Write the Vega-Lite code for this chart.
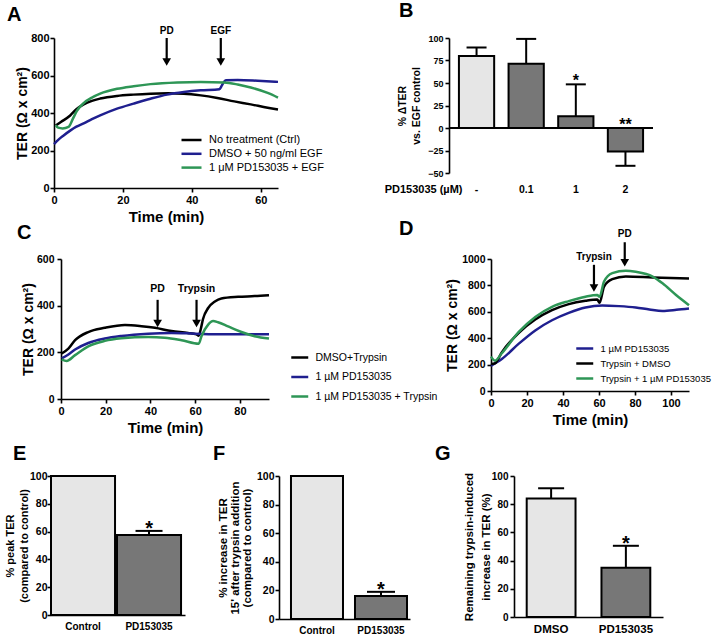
{
  "$schema": "https://vega.github.io/schema/vega-lite/v6.json",
  "padding": {"top": 1, "left": 0, "right": 0, "bottom": 0},
  "spacing": -6,
  "resolve": {"scale": {"color": "independent"}, "legend": {"color": "independent"}},
  "datasets": {
    "lineA": [
      {"t": 0.5, "v": 333, "s": "No treatment (Ctrl)"}, {"t": 2, "v": 352, "s": "No treatment (Ctrl)"}, {"t": 4.7, "v": 387, "s": "No treatment (Ctrl)"}, {"t": 6.5, "v": 420, "s": "No treatment (Ctrl)"}, {"t": 8.6, "v": 446, "s": "No treatment (Ctrl)"}, {"t": 11, "v": 465, "s": "No treatment (Ctrl)"}, {"t": 13.4, "v": 477, "s": "No treatment (Ctrl)"}, {"t": 18.3, "v": 491, "s": "No treatment (Ctrl)"}, {"t": 23, "v": 498, "s": "No treatment (Ctrl)"}, {"t": 28, "v": 503, "s": "No treatment (Ctrl)"}, {"t": 33, "v": 505, "s": "No treatment (Ctrl)"}, {"t": 37.7, "v": 503, "s": "No treatment (Ctrl)"}, {"t": 42.6, "v": 494, "s": "No treatment (Ctrl)"}, {"t": 47.4, "v": 480, "s": "No treatment (Ctrl)"}, {"t": 52.3, "v": 462, "s": "No treatment (Ctrl)"}, {"t": 57.1, "v": 446, "s": "No treatment (Ctrl)"}, {"t": 62, "v": 428, "s": "No treatment (Ctrl)"}, {"t": 65, "v": 419, "s": "No treatment (Ctrl)"},
      {"t": 0, "v": 234, "s": "DMSO + 50 ng/ml EGF"}, {"t": 1.3, "v": 258, "s": "DMSO + 50 ng/ml EGF"}, {"t": 2.7, "v": 279, "s": "DMSO + 50 ng/ml EGF"}, {"t": 4.7, "v": 306, "s": "DMSO + 50 ng/ml EGF"}, {"t": 6.5, "v": 327, "s": "DMSO + 50 ng/ml EGF"}, {"t": 8.6, "v": 345, "s": "DMSO + 50 ng/ml EGF"}, {"t": 11, "v": 367, "s": "DMSO + 50 ng/ml EGF"}, {"t": 13.4, "v": 387, "s": "DMSO + 50 ng/ml EGF"}, {"t": 18.3, "v": 423, "s": "DMSO + 50 ng/ml EGF"}, {"t": 23.1, "v": 450, "s": "DMSO + 50 ng/ml EGF"}, {"t": 28, "v": 476, "s": "DMSO + 50 ng/ml EGF"}, {"t": 32.8, "v": 498, "s": "DMSO + 50 ng/ml EGF"}, {"t": 37.7, "v": 512, "s": "DMSO + 50 ng/ml EGF"}, {"t": 42.6, "v": 521, "s": "DMSO + 50 ng/ml EGF"}, {"t": 48, "v": 527, "s": "DMSO + 50 ng/ml EGF"}, {"t": 48.6, "v": 543, "s": "DMSO + 50 ng/ml EGF"}, {"t": 49.3, "v": 565, "s": "DMSO + 50 ng/ml EGF"}, {"t": 49.9, "v": 575, "s": "DMSO + 50 ng/ml EGF"}, {"t": 53.3, "v": 576, "s": "DMSO + 50 ng/ml EGF"}, {"t": 59.1, "v": 572, "s": "DMSO + 50 ng/ml EGF"}, {"t": 65, "v": 566, "s": "DMSO + 50 ng/ml EGF"},
      {"t": 0.5, "v": 335, "s": "1 μM PD153035 + EGF"}, {"t": 1.2, "v": 322, "s": "1 μM PD153035 + EGF"}, {"t": 2.5, "v": 318, "s": "1 μM PD153035 + EGF"}, {"t": 4.2, "v": 326, "s": "1 μM PD153035 + EGF"}, {"t": 5.5, "v": 370, "s": "1 μM PD153035 + EGF"}, {"t": 6.6, "v": 410, "s": "1 μM PD153035 + EGF"}, {"t": 8.6, "v": 453, "s": "1 μM PD153035 + EGF"}, {"t": 11, "v": 482, "s": "1 μM PD153035 + EGF"}, {"t": 13.4, "v": 503, "s": "1 μM PD153035 + EGF"}, {"t": 18.3, "v": 529, "s": "1 μM PD153035 + EGF"}, {"t": 23.1, "v": 543, "s": "1 μM PD153035 + EGF"}, {"t": 28, "v": 554, "s": "1 μM PD153035 + EGF"}, {"t": 35.8, "v": 563, "s": "1 μM PD153035 + EGF"}, {"t": 42.6, "v": 566, "s": "1 μM PD153035 + EGF"}, {"t": 49.4, "v": 563, "s": "1 μM PD153035 + EGF"}, {"t": 53.3, "v": 552, "s": "1 μM PD153035 + EGF"}, {"t": 57.1, "v": 536, "s": "1 μM PD153035 + EGF"}, {"t": 62, "v": 507, "s": "1 μM PD153035 + EGF"}, {"t": 65, "v": 482, "s": "1 μM PD153035 + EGF"}
    ],
    "arrowA": [
      {"t": 32.7, "top": 800, "head": 672, "label": "PD"},
      {"t": 48.4, "top": 800, "head": 672, "label": "EGF"}
    ],
    "lineC": [
      {"t": 0.3, "v": 195, "s": "DMSO+Trypsin"}, {"t": 3.3, "v": 216, "s": "DMSO+Trypsin"}, {"t": 6.3, "v": 252, "s": "DMSO+Trypsin"}, {"t": 12.2, "v": 287, "s": "DMSO+Trypsin"}, {"t": 19.6, "v": 305, "s": "DMSO+Trypsin"}, {"t": 28.6, "v": 317, "s": "DMSO+Trypsin"}, {"t": 36, "v": 312, "s": "DMSO+Trypsin"}, {"t": 42, "v": 305, "s": "DMSO+Trypsin"}, {"t": 49.4, "v": 291, "s": "DMSO+Trypsin"}, {"t": 56.8, "v": 283, "s": "DMSO+Trypsin"}, {"t": 60.6, "v": 277, "s": "DMSO+Trypsin"}, {"t": 61.6, "v": 271, "s": "DMSO+Trypsin"}, {"t": 62.5, "v": 300, "s": "DMSO+Trypsin"}, {"t": 63.5, "v": 343, "s": "DMSO+Trypsin"}, {"t": 65.8, "v": 390, "s": "DMSO+Trypsin"}, {"t": 68.8, "v": 418, "s": "DMSO+Trypsin"}, {"t": 71.7, "v": 431, "s": "DMSO+Trypsin"}, {"t": 79.2, "v": 438, "s": "DMSO+Trypsin"}, {"t": 86.6, "v": 441, "s": "DMSO+Trypsin"}, {"t": 93, "v": 445, "s": "DMSO+Trypsin"},
      {"t": 0.3, "v": 174, "s": "1 µM PD153035"}, {"t": 3.3, "v": 191, "s": "1 µM PD153035"}, {"t": 6.3, "v": 212, "s": "1 µM PD153035"}, {"t": 12.2, "v": 240, "s": "1 µM PD153035"}, {"t": 19.6, "v": 259, "s": "1 µM PD153035"}, {"t": 27, "v": 270, "s": "1 µM PD153035"}, {"t": 39, "v": 280, "s": "1 µM PD153035"}, {"t": 49.4, "v": 283, "s": "1 µM PD153035"}, {"t": 59.8, "v": 280, "s": "1 µM PD153035"}, {"t": 71.7, "v": 277, "s": "1 µM PD153035"}, {"t": 93, "v": 277, "s": "1 µM PD153035"},
      {"t": 0.3, "v": 170, "s": "1 µM PD153035 + Trypsin"}, {"t": 2.5, "v": 163, "s": "1 µM PD153035 + Trypsin"}, {"t": 6.3, "v": 188, "s": "1 µM PD153035 + Trypsin"}, {"t": 12.2, "v": 226, "s": "1 µM PD153035 + Trypsin"}, {"t": 19.6, "v": 249, "s": "1 µM PD153035 + Trypsin"}, {"t": 27, "v": 260, "s": "1 µM PD153035 + Trypsin"}, {"t": 39, "v": 266, "s": "1 µM PD153035 + Trypsin"}, {"t": 46.4, "v": 263, "s": "1 µM PD153035 + Trypsin"}, {"t": 53.9, "v": 252, "s": "1 µM PD153035 + Trypsin"}, {"t": 61.6, "v": 237, "s": "1 µM PD153035 + Trypsin"}, {"t": 62.8, "v": 269, "s": "1 µM PD153035 + Trypsin"}, {"t": 65.8, "v": 319, "s": "1 µM PD153035 + Trypsin"}, {"t": 68, "v": 334, "s": "1 µM PD153035 + Trypsin"}, {"t": 70.2, "v": 329, "s": "1 µM PD153035 + Trypsin"}, {"t": 74.7, "v": 311, "s": "1 µM PD153035 + Trypsin"}, {"t": 80.7, "v": 287, "s": "1 µM PD153035 + Trypsin"}, {"t": 86.6, "v": 269, "s": "1 µM PD153035 + Trypsin"}, {"t": 93, "v": 259, "s": "1 µM PD153035 + Trypsin"}
    ],
    "arrowC": [
      {"t": 43.2, "top": 425, "head": 324, "label": "PD"},
      {"t": 60.6, "top": 425, "head": 324, "label": "Trypsin"}
    ],
    "lineD": [
      {"t": 0, "v": 191, "s": "1 µM PD153035"}, {"t": 6, "v": 242, "s": "1 µM PD153035"}, {"t": 15.3, "v": 357, "s": "1 µM PD153035"}, {"t": 24.6, "v": 459, "s": "1 µM PD153035"}, {"t": 33.9, "v": 536, "s": "1 µM PD153035"}, {"t": 43.2, "v": 592, "s": "1 µM PD153035"}, {"t": 52.5, "v": 633, "s": "1 µM PD153035"}, {"t": 61.8, "v": 648, "s": "1 µM PD153035"}, {"t": 71.1, "v": 643, "s": "1 µM PD153035"}, {"t": 80.4, "v": 633, "s": "1 µM PD153035"}, {"t": 88, "v": 618, "s": "1 µM PD153035"}, {"t": 95.3, "v": 607, "s": "1 µM PD153035"}, {"t": 103, "v": 615, "s": "1 µM PD153035"}, {"t": 110, "v": 625, "s": "1 µM PD153035"},
      {"t": 0, "v": 204, "s": "Trypsin + DMSO"}, {"t": 2.2, "v": 209, "s": "Trypsin + DMSO"}, {"t": 6, "v": 293, "s": "Trypsin + DMSO"}, {"t": 15.3, "v": 439, "s": "Trypsin + DMSO"}, {"t": 24.6, "v": 541, "s": "Trypsin + DMSO"}, {"t": 33.9, "v": 612, "s": "Trypsin + DMSO"}, {"t": 43.2, "v": 658, "s": "Trypsin + DMSO"}, {"t": 52.5, "v": 684, "s": "Trypsin + DMSO"}, {"t": 59, "v": 694, "s": "Trypsin + DMSO"}, {"t": 60.3, "v": 668, "s": "Trypsin + DMSO"}, {"t": 62.8, "v": 791, "s": "Trypsin + DMSO"}, {"t": 67.4, "v": 847, "s": "Trypsin + DMSO"}, {"t": 74.9, "v": 867, "s": "Trypsin + DMSO"}, {"t": 89.8, "v": 860, "s": "Trypsin + DMSO"}, {"t": 110, "v": 852, "s": "Trypsin + DMSO"},
      {"t": 0, "v": 260, "s": "Trypsin + 1 µM PD153035"}, {"t": 2.2, "v": 230, "s": "Trypsin + 1 µM PD153035"}, {"t": 6, "v": 286, "s": "Trypsin + 1 µM PD153035"}, {"t": 15.3, "v": 446, "s": "Trypsin + 1 µM PD153035"}, {"t": 24.6, "v": 561, "s": "Trypsin + 1 µM PD153035"}, {"t": 33.9, "v": 638, "s": "Trypsin + 1 µM PD153035"}, {"t": 43.2, "v": 681, "s": "Trypsin + 1 µM PD153035"}, {"t": 52.5, "v": 714, "s": "Trypsin + 1 µM PD153035"}, {"t": 59, "v": 727, "s": "Trypsin + 1 µM PD153035"}, {"t": 60.3, "v": 714, "s": "Trypsin + 1 µM PD153035"}, {"t": 62.8, "v": 829, "s": "Trypsin + 1 µM PD153035"}, {"t": 67.4, "v": 893, "s": "Trypsin + 1 µM PD153035"}, {"t": 74.9, "v": 911, "s": "Trypsin + 1 µM PD153035"}, {"t": 80.4, "v": 903, "s": "Trypsin + 1 µM PD153035"}, {"t": 89.8, "v": 867, "s": "Trypsin + 1 µM PD153035"}, {"t": 95.3, "v": 816, "s": "Trypsin + 1 µM PD153035"}, {"t": 102.8, "v": 727, "s": "Trypsin + 1 µM PD153035"}, {"t": 110, "v": 650, "s": "Trypsin + 1 µM PD153035"}
    ],
    "arrowD": [
      {"t": 57.2, "top": 956, "head": 780, "label": "Trypsin"},
      {"t": 74.3, "top": 1127, "head": 972, "label": "PD"}
    ],
    "barB": [
      {"cat": "-", "val": 80, "hi": 89.5, "g": "c"},
      {"cat": "0.1", "val": 71.5, "hi": 99, "g": "t"},
      {"cat": "1", "val": 13, "hi": 48.5, "g": "t"},
      {"cat": "2", "val": -26, "hi": -42, "g": "t"}
    ],
    "starB": [
      {"cat": "1", "at": 48.5, "sig": "*"},
      {"cat": "2", "at": 0, "sig": "**"}
    ],
    "barE": [
      {"cat": "Control", "val": 100, "g": "c"},
      {"cat": "PD153035", "val": 57.5, "hi": 60.5, "g": "t", "sig": "*"}
    ],
    "barF": [
      {"cat": "Control", "val": 100, "g": "c"},
      {"cat": "PD153035", "val": 16, "hi": 19, "g": "t", "sig": "*"}
    ],
    "barG": [
      {"cat": "DMSO", "val": 84, "hi": 91.3, "g": "c"},
      {"cat": "PD153035", "val": 35, "hi": 50.5, "g": "t", "sig": "*"}
    ]
  },
  "vconcat": [
    {
      "spacing": 0,
      "bounds": "flush",
      "resolve": {"scale": {"color": "independent"}, "legend": {"color": "independent"}},
      "hconcat": [
        {"width": 54, "height": 187, "data": {"values": []}, "mark": "point"},
        {
          "width": 224, "height": 150,
          "title": {"text": "A", "anchor": "start", "frame": "group", "fontSize": 20, "fontWeight": "bold", "font": "Liberation Sans", "color": "black", "offset": 0, "baseline": "alphabetic", "dx": -47, "dy": 15},
          "layer": [
            {
              "data": {"name": "lineA"},
              "mark": {"type": "line", "strokeWidth": 2.5, "interpolate": "monotone"},
              "encoding": {
                "x": {"field": "t", "type": "quantitative", "scale": {"domain": [0, 65], "nice": false}, "axis": {"values": [0, 20, 40, 60], "tickCount": 20, "labelOverlap": false, "title": "Time (min)", "titleFontSize": 15, "titlePadding": 4, "labelFontSize": 11, "labelPadding": 2}},
                "y": {"field": "v", "type": "quantitative", "scale": {"domain": [0, 800], "nice": false}, "axis": {"values": [0, 200, 400, 600, 800], "tickCount": 20, "labelOverlap": false, "title": "TER (Ω x cm²)", "titleFontSize": 14, "titlePadding": 1, "labelFontSize": 11, "labelPadding": 1}},
                "color": {"field": "s", "type": "nominal", "scale": {"domain": ["No treatment (Ctrl)", "DMSO + 50 ng/ml EGF", "1 μM PD153035 + EGF"], "range": ["#000000", "#1f1f8f", "#2e9656"]},
                  "legend": {"title": null, "orient": "none", "legendX": 131, "legendY": 95.5, "symbolType": "M-2,0H2", "symbolSize": 100, "symbolStrokeWidth": 2.5, "labelFontSize": 11, "labelOffset": 11, "rowPadding": 1.8, "padding": 0, "labelFont": "Liberation Sans", "labelColor": "black"}}
              }
            },
            {
              "data": {"name": "arrowA"},
              "mark": {"type": "rule", "strokeWidth": 2.2, "color": "black"},
              "encoding": {"x": {"field": "t", "type": "quantitative"}, "y": {"field": "top", "type": "quantitative"}, "y2": {"field": "head"}}
            },
            {
              "data": {"name": "arrowA"},
              "mark": {"type": "point", "shape": "triangle-down", "filled": true, "size": 75, "color": "black", "opacity": 1},
              "encoding": {"x": {"field": "t", "type": "quantitative"}, "y": {"field": "head", "type": "quantitative"}}
            },
            {
              "data": {"name": "arrowA"},
              "mark": {"type": "text", "fontSize": 10, "fontWeight": "bold", "baseline": "alphabetic", "dy": -4, "color": "black", "font": "Liberation Sans"},
              "encoding": {"x": {"field": "t", "type": "quantitative"}, "y": {"field": "top", "type": "quantitative"}, "text": {"field": "label"}}
            }
          ]
        },
        {"width": 171, "height": 1, "data": {"values": []}, "mark": "point"},
        {
          "width": 204, "height": 135,
          "title": {"text": "B", "anchor": "start", "frame": "group", "fontSize": 20, "fontWeight": "bold", "font": "Liberation Sans", "color": "black", "offset": 0, "baseline": "alphabetic", "dx": -50, "dy": 3},
          "data": {"name": "barB"},
          "layer": [
            {
              "mark": {"type": "bar", "stroke": "black", "strokeWidth": 2},
              "encoding": {
                "x": {"field": "cat", "type": "nominal", "scale": {"domain": ["-", "0.1", "1", "2"], "paddingInner": 0.29, "paddingOuter": 0.2}, "axis": {"title": "PD153035 (µM)", "domain": false, "ticks": false, "tickSize": 0, "labelAngle": 0, "labelFontSize": 10.5, "labelPadding": 11, "titleX": 13, "titleY": 16, "titleAlign": "right", "titleBaseline": "middle", "titleFontSize": 11}},
                "y": {"field": "val", "type": "quantitative", "scale": {"domain": [-50, 100], "nice": false}, "axis": {"values": [-50, -25, 0, 25, 50, 75, 100], "tickCount": 20, "labelOverlap": false, "title": ["% ΔTER", "vs. EGF control"], "titleFontSize": 10.5, "titleLineHeight": 14, "titlePadding": 6, "labelFontSize": 9, "labelPadding": 2}},
                "color": {"field": "g", "type": "nominal", "scale": {"domain": ["c", "t"], "range": ["#e6e6e6", "#777777"]}, "legend": null}
              }
            },
            {
              "transform": [{"filter": "datum.hi != null"}],
              "mark": {"type": "rule", "strokeWidth": 2, "color": "black"},
              "encoding": {"x": {"field": "cat", "type": "nominal"}, "y": {"field": "val", "type": "quantitative"}, "y2": {"field": "hi"}}
            },
            {
              "transform": [{"filter": "datum.hi != null"}],
              "mark": {"type": "tick", "thickness": 2, "size": 20, "color": "black", "opacity": 1},
              "encoding": {"x": {"field": "cat", "type": "nominal"}, "y": {"field": "hi", "type": "quantitative"}}
            },
            {
              "mark": {"type": "rule", "strokeWidth": 1.5, "color": "black"},
              "encoding": {"y": {"datum": 0}}
            },
            {
              "data": {"name": "starB"},
              "mark": {"type": "text", "fontSize": 16, "fontWeight": "bold", "baseline": "alphabetic", "dy": 2, "color": "black", "font": "Liberation Sans"},
              "encoding": {"x": {"field": "cat", "type": "nominal"}, "y": {"field": "at", "type": "quantitative"}, "text": {"field": "sig"}}
            }
          ]
        }
      ]
    },
    {
      "spacing": 0,
      "bounds": "flush",
      "resolve": {"scale": {"color": "independent"}, "legend": {"color": "independent"}},
      "hconcat": [
        {"width": 61, "height": 191, "data": {"values": []}, "mark": "point"},
        {
          "width": 208, "height": 140,
          "title": {"text": "C", "anchor": "start", "frame": "group", "fontSize": 20, "fontWeight": "bold", "font": "Liberation Sans", "color": "black", "offset": 0, "baseline": "alphabetic", "dx": -44, "dy": 5},
          "layer": [
            {
              "data": {"name": "lineC"},
              "mark": {"type": "line", "strokeWidth": 2.5, "interpolate": "monotone"},
              "encoding": {
                "x": {"field": "t", "type": "quantitative", "scale": {"domain": [0, 93], "nice": false}, "axis": {"values": [0, 20, 40, 60, 80], "tickCount": 20, "labelOverlap": false, "title": "Time (min)", "titleFontSize": 15, "titlePadding": 4, "labelFontSize": 11, "labelPadding": 2}},
                "y": {"field": "v", "type": "quantitative", "scale": {"domain": [0, 600], "nice": false}, "axis": {"values": [0, 200, 400, 600], "tickCount": 20, "labelOverlap": false, "title": "TER (Ω x cm²)", "titleFontSize": 14, "titlePadding": 1, "labelFontSize": 10.5, "labelPadding": 3}},
                "color": {"field": "s", "type": "nominal", "scale": {"domain": ["DMSO+Trypsin", "1 µM PD153035", "1 µM PD153035 + Trypsin"], "range": ["#000000", "#1f1f8f", "#2e9656"]},
                  "legend": {"title": null, "orient": "none", "legendX": 233.25, "legendY": 93, "symbolType": "M-2,0H2", "symbolSize": 72, "symbolStrokeWidth": 2.5, "labelFontSize": 10.5, "labelOffset": 10.25, "rowPadding": 8.5, "padding": 0, "labelFont": "Liberation Sans", "labelColor": "black"}}
              }
            },
            {
              "data": {"name": "arrowC"},
              "mark": {"type": "rule", "strokeWidth": 2.2, "color": "black"},
              "encoding": {"x": {"field": "t", "type": "quantitative"}, "y": {"field": "top", "type": "quantitative"}, "y2": {"field": "head"}}
            },
            {
              "data": {"name": "arrowC"},
              "mark": {"type": "point", "shape": "triangle-down", "filled": true, "size": 75, "color": "black", "opacity": 1},
              "encoding": {"x": {"field": "t", "type": "quantitative"}, "y": {"field": "head", "type": "quantitative"}}
            },
            {
              "data": {"name": "arrowC"},
              "mark": {"type": "text", "fontSize": 10.5, "fontWeight": "bold", "baseline": "alphabetic", "dy": -8, "color": "black", "font": "Liberation Sans"},
              "encoding": {"x": {"field": "t", "type": "quantitative"}, "y": {"field": "top", "type": "quantitative"}, "text": {"field": "label"}}
            }
          ]
        },
        {"width": 222, "height": 1, "data": {"values": []}, "mark": "point"},
        {
          "width": 198, "height": 132,
          "title": {"text": "D", "anchor": "start", "frame": "group", "fontSize": 20, "fontWeight": "bold", "font": "Liberation Sans", "color": "black", "offset": 0, "baseline": "alphabetic", "dx": -92, "dy": 26},
          "layer": [
            {
              "data": {"name": "lineD"},
              "mark": {"type": "line", "strokeWidth": 2.5, "interpolate": "monotone"},
              "encoding": {
                "x": {"field": "t", "type": "quantitative", "scale": {"domain": [0, 110], "nice": false}, "axis": {"values": [0, 20, 40, 60, 80, 100], "tickCount": 20, "labelOverlap": false, "title": "Time (min)", "titleFontSize": 15, "titlePadding": 4, "labelFontSize": 11, "labelPadding": 2}},
                "y": {"field": "v", "type": "quantitative", "scale": {"domain": [0, 1000], "nice": false}, "axis": {"values": [0, 200, 400, 600, 800, 1000], "format": "d", "tickCount": 20, "labelOverlap": false, "title": "TER (Ω x cm²)", "titleFontSize": 14, "titlePadding": 2, "labelFontSize": 10.5, "labelPadding": 2}},
                "color": {"field": "s", "type": "nominal", "scale": {"domain": ["1 µM PD153035", "Trypsin + DMSO", "Trypsin + 1 µM PD153035"], "range": ["#1f1f8f", "#000000", "#2e9656"]},
                  "legend": {"title": null, "orient": "none", "legendX": 88.25, "legendY": 84, "symbolType": "M-2,0H2", "symbolSize": 72, "symbolStrokeWidth": 2.5, "labelFontSize": 9.5, "labelOffset": 10.25, "rowPadding": 4, "padding": 0, "labelFont": "Liberation Sans", "labelColor": "black"}}
              }
            },
            {
              "data": {"name": "arrowD"},
              "mark": {"type": "rule", "strokeWidth": 2.2, "color": "black"},
              "encoding": {"x": {"field": "t", "type": "quantitative"}, "y": {"field": "top", "type": "quantitative"}, "y2": {"field": "head"}}
            },
            {
              "data": {"name": "arrowD"},
              "mark": {"type": "point", "shape": "triangle-down", "filled": true, "size": 75, "color": "black", "opacity": 1},
              "encoding": {"x": {"field": "t", "type": "quantitative"}, "y": {"field": "head", "type": "quantitative"}}
            },
            {
              "data": {"name": "arrowD"},
              "mark": {"type": "text", "fontSize": 10, "fontWeight": "bold", "baseline": "alphabetic", "dy": -5, "color": "black", "font": "Liberation Sans"},
              "encoding": {"x": {"field": "t", "type": "quantitative"}, "y": {"field": "top", "type": "quantitative"}, "text": {"field": "label"}}
            }
          ]
        }
      ]
    },
    {
      "spacing": 0,
      "bounds": "flush",
      "resolve": {"scale": {"color": "independent"}, "legend": {"color": "independent"}},
      "hconcat": [
        {"width": 51, "height": 1, "data": {"values": []}, "mark": "point"},
        {
          "width": 134, "height": 139,
          "title": {"text": "E", "anchor": "start", "frame": "group", "fontSize": 20, "fontWeight": "bold", "font": "Liberation Sans", "color": "black", "offset": 0, "baseline": "alphabetic", "dx": -38, "dy": 9},
          "data": {"name": "barE"},
          "layer": [
            {
              "mark": {"type": "bar", "stroke": "black", "strokeWidth": 2},
              "encoding": {
                "x": {"field": "cat", "type": "nominal", "scale": {"domain": ["Control", "PD153035"], "paddingInner": 0.03, "paddingOuter": 0.03, "align": 0}, "axis": {"title": null, "ticks": false, "tickSize": 0, "labelAngle": 0, "labelFontSize": 10, "labelPadding": 6}},
                "y": {"field": "val", "type": "quantitative", "scale": {"domain": [0, 100], "nice": false}, "axis": {"values": [0, 20, 40, 60, 80, 100], "tickCount": 20, "labelOverlap": false, "title": ["% peak TER", "(compared to control)"], "titleFontSize": 11, "titleLineHeight": 14, "titlePadding": 0, "labelFontSize": 10.5, "labelPadding": 0}},
                "color": {"field": "g", "type": "nominal", "scale": {"domain": ["c", "t"], "range": ["#e6e6e6", "#777777"]}, "legend": null}
              }
            },
            {
              "transform": [{"filter": "datum.hi != null"}],
              "mark": {"type": "rule", "strokeWidth": 2, "color": "black"},
              "encoding": {"x": {"field": "cat", "type": "nominal"}, "y": {"field": "val", "type": "quantitative"}, "y2": {"field": "hi"}}
            },
            {
              "transform": [{"filter": "datum.hi != null"}],
              "mark": {"type": "tick", "thickness": 2, "size": 27, "color": "black", "opacity": 1},
              "encoding": {"x": {"field": "cat", "type": "nominal"}, "y": {"field": "hi", "type": "quantitative"}}
            },
            {
              "transform": [{"filter": "datum.sig != null"}],
              "mark": {"type": "text", "fontSize": 20, "fontWeight": "bold", "baseline": "alphabetic", "dy": 4, "color": "black", "font": "Liberation Sans"},
              "encoding": {"x": {"field": "cat", "type": "nominal"}, "y": {"field": "hi", "type": "quantitative"}, "text": {"field": "sig"}}
            }
          ]
        },
        {"width": 94, "height": 1, "data": {"values": []}, "mark": "point"},
        {
          "width": 131, "height": 143,
          "title": {"text": "F", "anchor": "start", "frame": "group", "fontSize": 20, "fontWeight": "bold", "font": "Liberation Sans", "color": "black", "offset": 0, "baseline": "alphabetic", "dx": -66, "dy": 9},
          "data": {"name": "barF"},
          "layer": [
            {
              "mark": {"type": "bar", "stroke": "black", "strokeWidth": 2},
              "encoding": {
                "x": {"field": "cat", "type": "nominal", "scale": {"domain": ["Control", "PD153035"], "paddingInner": 0.1875, "paddingOuter": 0.117, "align": 0.8}, "axis": {"title": null, "ticks": false, "tickSize": 0, "labelAngle": 0, "labelFontSize": 10, "labelPadding": 6}},
                "y": {"field": "val", "type": "quantitative", "scale": {"domain": [0, 100], "nice": false}, "axis": {"values": [0, 20, 40, 60, 80, 100], "tickCount": 20, "labelOverlap": false, "title": ["% increase in TER", "15' after trypsin addition", "(compared to control)"], "titleFontSize": 11.5, "titleLineHeight": 12, "titlePadding": 4, "labelFontSize": 10.5, "labelPadding": 1}},
                "color": {"field": "g", "type": "nominal", "scale": {"domain": ["c", "t"], "range": ["#e6e6e6", "#777777"]}, "legend": null}
              }
            },
            {
              "transform": [{"filter": "datum.hi != null"}],
              "mark": {"type": "rule", "strokeWidth": 2, "color": "black"},
              "encoding": {"x": {"field": "cat", "type": "nominal"}, "y": {"field": "val", "type": "quantitative"}, "y2": {"field": "hi"}}
            },
            {
              "transform": [{"filter": "datum.hi != null"}],
              "mark": {"type": "tick", "thickness": 2, "size": 28, "color": "black", "opacity": 1},
              "encoding": {"x": {"field": "cat", "type": "nominal"}, "y": {"field": "hi", "type": "quantitative"}}
            },
            {
              "transform": [{"filter": "datum.sig != null"}],
              "mark": {"type": "text", "fontSize": 20, "fontWeight": "bold", "baseline": "alphabetic", "dy": 4, "color": "black", "font": "Liberation Sans"},
              "encoding": {"x": {"field": "cat", "type": "nominal"}, "y": {"field": "hi", "type": "quantitative"}, "text": {"field": "sig"}}
            }
          ]
        },
        {"width": 104, "height": 1, "data": {"values": []}, "mark": "point"},
        {
          "width": 149, "height": 141,
          "title": {"text": "G", "anchor": "start", "frame": "group", "fontSize": 20, "fontWeight": "bold", "font": "Liberation Sans", "color": "black", "offset": 0, "baseline": "alphabetic", "dx": -79, "dy": 9},
          "data": {"name": "barG"},
          "layer": [
            {
              "mark": {"type": "bar", "stroke": "black", "strokeWidth": 2},
              "encoding": {
                "x": {"field": "cat", "type": "nominal", "scale": {"domain": ["DMSO", "PD153035"], "paddingInner": 0.347, "paddingOuter": 0.17}, "axis": {"title": null, "ticks": false, "tickSize": 0, "labelAngle": 0, "labelFontSize": 11.5, "labelPadding": 6}},
                "y": {"field": "val", "type": "quantitative", "scale": {"domain": [0, 100], "nice": false}, "axis": {"values": [0, 20, 40, 60, 80, 100], "tickCount": 20, "labelOverlap": false, "title": ["Remaining trypsin-induced", "increase in TER (%)"], "titleFontSize": 11.5, "titleLineHeight": 17, "titlePadding": 0, "labelFontSize": 10, "labelPadding": 2}},
                "color": {"field": "g", "type": "nominal", "scale": {"domain": ["c", "t"], "range": ["#e6e6e6", "#777777"]}, "legend": null}
              }
            },
            {
              "transform": [{"filter": "datum.hi != null"}],
              "mark": {"type": "rule", "strokeWidth": 2, "color": "black"},
              "encoding": {"x": {"field": "cat", "type": "nominal"}, "y": {"field": "val", "type": "quantitative"}, "y2": {"field": "hi"}}
            },
            {
              "transform": [{"filter": "datum.hi != null"}],
              "mark": {"type": "tick", "thickness": 2, "size": 26, "color": "black", "opacity": 1},
              "encoding": {"x": {"field": "cat", "type": "nominal"}, "y": {"field": "hi", "type": "quantitative"}}
            },
            {
              "transform": [{"filter": "datum.sig != null"}],
              "mark": {"type": "text", "fontSize": 20, "fontWeight": "bold", "baseline": "alphabetic", "dy": 4, "color": "black", "font": "Liberation Sans"},
              "encoding": {"x": {"field": "cat", "type": "nominal"}, "y": {"field": "hi", "type": "quantitative"}, "text": {"field": "sig"}}
            }
          ]
        }
      ]
    }
  ],
  "config": {
    "view": {"stroke": null},
    "font": "Liberation Sans",
    "axis": {
      "labelFont": "Liberation Sans", "labelFontWeight": "bold", "labelColor": "black",
      "titleFont": "Liberation Sans", "titleFontWeight": "bold", "titleColor": "black",
      "domainColor": "black", "domainWidth": 1.6, "tickColor": "black", "tickWidth": 1.6, "tickSize": 4,
      "grid": false, "labelFlush": false, "labelOverlap": false
    },
    "legend": {"labelFontWeight": "normal"}
  }
}
